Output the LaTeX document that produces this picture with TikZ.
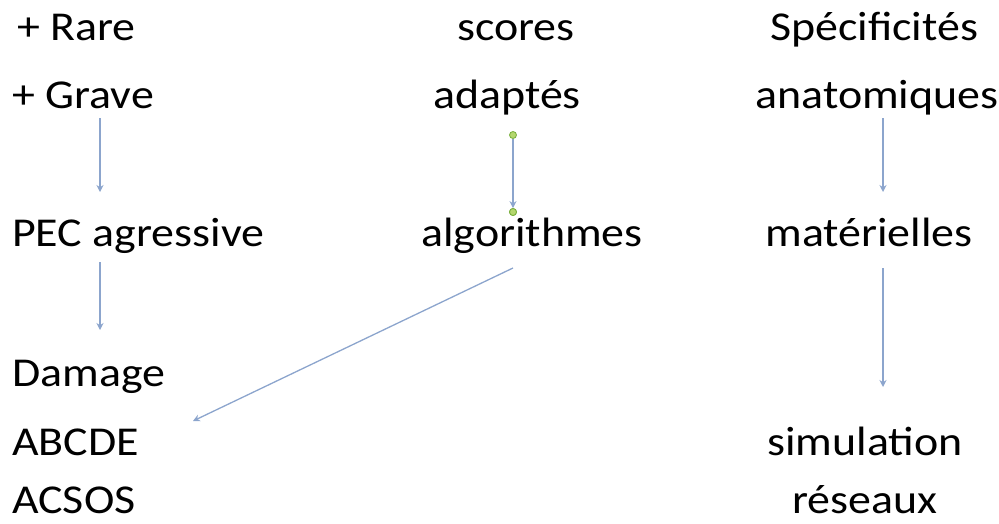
\documentclass[tikz,border=0pt]{standalone}
\usepackage{fontspec}
\setmainfont[FakeStretch=1.12]{Carlito}
\usetikzlibrary{arrows.meta}
\definecolor{arrowblue}{RGB}{140,165,205}
\definecolor{dotgreen}{RGB}{180,215,110}
\definecolor{dotedge}{RGB}{120,175,60}
\tikzset{
  lblfont/.style={inner sep=0pt,font=\fontsize{41}{41}\selectfont},
  lbl/.style={lblfont,anchor=base west},
  clbl/.style={lblfont,anchor=base},
  conn/.style={draw=arrowblue,line width=1.3pt,-{Stealth[length=7pt,width=7pt]}},
  handle/.style={circle,draw=dotedge,fill=dotgreen,line width=0.8pt,minimum size=7pt,inner sep=0pt}
}
\begin{document}
\begin{tikzpicture}[x=1pt,y=-1pt]
\useasboundingbox (0,0) rectangle (999,523);
% left column
\node[lbl] (rare) at (17,40) {+ Rare};
\node[lbl] (grave) at (12,108) {+ Grave};
\node[lbl] (pec) at (12,246) {PEC agressive};
\node[lbl] (damage) at (12,386) {Damage};
\node[lbl] (abcde) at (12,455) {ABCDE};
\node[lbl] (acsos) at (12,513) {ACSOS};
% middle column
\node[clbl] (scores) at (516,40) {scores};
\node[clbl] (adaptes) at (507,108) {adaptés};
\node[clbl] (algo) at (532,246) {algorithmes};
% right column
\node[clbl] (spec) at (874,40) {Spécificités};
\node[clbl] (anat) at (877,108) {anatomiques};
\node[clbl] (mat) at (869,246) {matérielles};
\node[clbl] (simu) at (865,455) {simulation};
\node[clbl] (res) at (865,513) {réseaux};
% connector ends
\coordinate (l1s) at (100,118);
\coordinate (l1e) at (100,192);
\coordinate (l2s) at (100,262);
\coordinate (l2e) at (100,330);
\coordinate (r1s) at (883,118);
\coordinate (r1e) at (883,192);
\coordinate (r2s) at (883,268);
\coordinate (r2e) at (883,387);
\coordinate (ds) at (513,268);
\coordinate (de) at (193,421);
\node[handle] (m1) at (513,135) {};
\node[handle] (m2) at (513,212) {};
% connectors
\draw[conn] (l1s) -- (l1e);
\draw[conn] (l2s) -- (l2e);
\draw[conn] (r1s) -- (r1e);
\draw[conn] (r2s) -- (r2e);
\draw[conn] (m1) -- (m2);
\draw[conn] (ds) -- (de);
\node[handle] at (m2) {};
\end{tikzpicture}
\end{document}
